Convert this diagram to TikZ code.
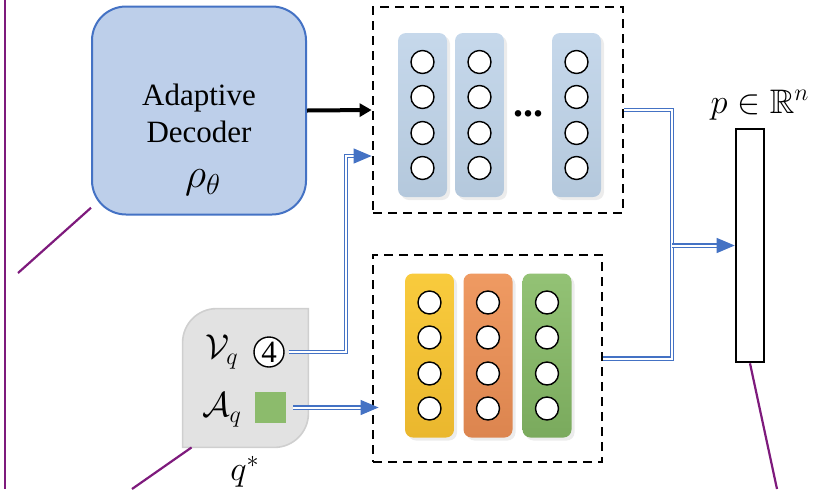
\documentclass[tikz,border=0pt]{standalone}
\usepackage{amsmath,amssymb}
\usepackage{fontspec}
\setmainfont{Liberation Serif}
\usetikzlibrary{arrows.meta,shadows}

\definecolor{decfill}{HTML}{BDCFEA}
\definecolor{decline}{HTML}{4472C4}
\definecolor{arrblue}{HTML}{4472C4}
\definecolor{bluetop}{HTML}{C6D8EB}
\definecolor{bluebot}{HTML}{B4C8DC}
\definecolor{yeltop}{HTML}{F9CB3D}
\definecolor{yelbot}{HTML}{EAB72E}
\definecolor{orgtop}{HTML}{EF9A62}
\definecolor{orgbot}{HTML}{DC854F}
\definecolor{grntop}{HTML}{93C275}
\definecolor{grnbot}{HTML}{7AAA5D}
\definecolor{qgray}{HTML}{E2E2E2}
\definecolor{qline}{HTML}{CFCFCF}
\definecolor{sqgreen}{HTML}{8CBB6C}
\definecolor{linkpurple}{HTML}{7E1A7C}

\begin{document}
\begin{tikzpicture}[x=0.5pt,y=-0.5pt,
	decoder/.style={ rounded corners=17pt, draw=decline, line width=1pt, fill=decfill, minimum width=107pt, minimum height=104pt },
	layerbox/.style={ draw, line width=1.4pt, dash pattern=on 4.5pt off 3pt, minimum width=125pt, minimum height=103pt },
	column/.style={ rounded corners=4pt, minimum width=24.5pt, minimum height=82pt, drop shadow={shadow xshift=1.5pt, shadow yshift=-1.5pt, opacity=0.15} },
	unit/.style={ circle, draw, line width=0.7pt, fill=white, inner sep=0pt, minimum size=11.5pt },
	dbl/.style={ arrblue, double=white, line width=0.6pt, double distance=1pt },
	dblarrow/.style={ dbl, -{Triangle[length=9pt,width=7.5pt]} },
	link/.style={ linkpurple, line width=1.1pt },
	txt/.style={ font=\fontsize{15.5}{18.5}\selectfont },
	mathtxt/.style={ font=\fontsize{17}{20}\selectfont }
]
\useasboundingbox (0,0) rectangle (826,489);

\draw[link] (5,0) -- (5,489);

% decoder
\node at (199,110.5) (decoder) [decoder] {};
\node at (199,113) (dectext) [txt,align=center] {Adaptive\\Decoder};
\node at (203,183) (rho) [font=\fontsize{20}{22}\selectfont] {$\rho_{\theta}$};
\draw[link] (decoder.222) -- (18,273);

% top layers
\node at (498,110) (topbox) [layerbox] {};
\foreach \c/\x in {a/422.5,b/479.5,c/576.5} {
	\node at (\x,115) (top\c) [column,top color=bluetop,bottom color=bluebot] {};
	\foreach \k/\dy in {1/-53,2/-18,3/18,4/53}
		\node at (\x,{115+\dy}) (top\c\k) [unit] {};
}
\node at (528,114) (dots) [font=\fontsize{20}{20}\selectfont] {\textbf{...}};

% bottom layers
\node at (487.5,358.5) (botbox) [layerbox,minimum width=114.5pt,minimum height=103.5pt] {};
\foreach \c/\x/\col in {a/429.5/yel,b/488/org,c/547/grn} {
	\node at (\x,355.5) (bot\c) [column,top color=\col top,bottom color=\col bot] {};
	\foreach \k/\dy in {1/-53,2/-18,3/18,4/53}
		\node at (\x,{355.5+\dy}) (bot\c\k) [unit] {};
}

% query
\node at (245.5,378) (qbox) [minimum width=62.5pt,minimum height=69pt] {};
\draw[draw=qline,fill=qgray,line width=0.8pt] (qbox.south west) [rounded corners=17pt] -- (qbox.north west) [sharp corners] -- (qbox.north east) [rounded corners=17pt] -- (qbox.south east) [sharp corners] -- cycle;
\node at (222,352) (vq) [mathtxt] {$\mathcal{V}_q$};
\node at (269,352) (four) [circle,draw,line width=0.7pt,fill=white,inner sep=0pt,minimum size=15pt,txt] {4};
\node at (222,410) (aq) [mathtxt] {$\mathcal{A}_q$};
\node at (270.5,407.5) (gsq) [fill=sqgreen,inner sep=0pt,minimum size=15.5pt] {};
\node at (245,472) (qstar) [mathtxt] {$q^{*}$};
\draw[link] ([xshift=4.5pt]qbox.south west) -- (132,489);

% output
\node at (750,245.5) (pvec) [draw,line width=1.3pt,minimum width=14pt,minimum height=116.5pt] {};
\node at (760,105) (plabel) [mathtxt] {$p\in\mathbb{R}^{n}$};
\draw[link] (pvec.south) -- (777,489);

% connectors
\coordinate (vbend) at (346,156);
\coordinate (join) at (672,245.5);
\draw[line width=2pt,-{Triangle[length=6pt,width=6.5pt]}] (decoder.east) -- (topbox.west);
\draw[dblarrow] ([xshift=2pt]four.east) -| (vbend) -- (vbend -| topbox.west);
\draw[dblarrow] ([xshift=3.5pt]gsq.east) -- ([xshift=3.5pt]gsq.east -| botbox.west);
\draw[dbl] (topbox.east) -| (join) |- (botbox.east);
\draw[dblarrow] (join) -- (pvec.west);

\end{tikzpicture}
\end{document}
